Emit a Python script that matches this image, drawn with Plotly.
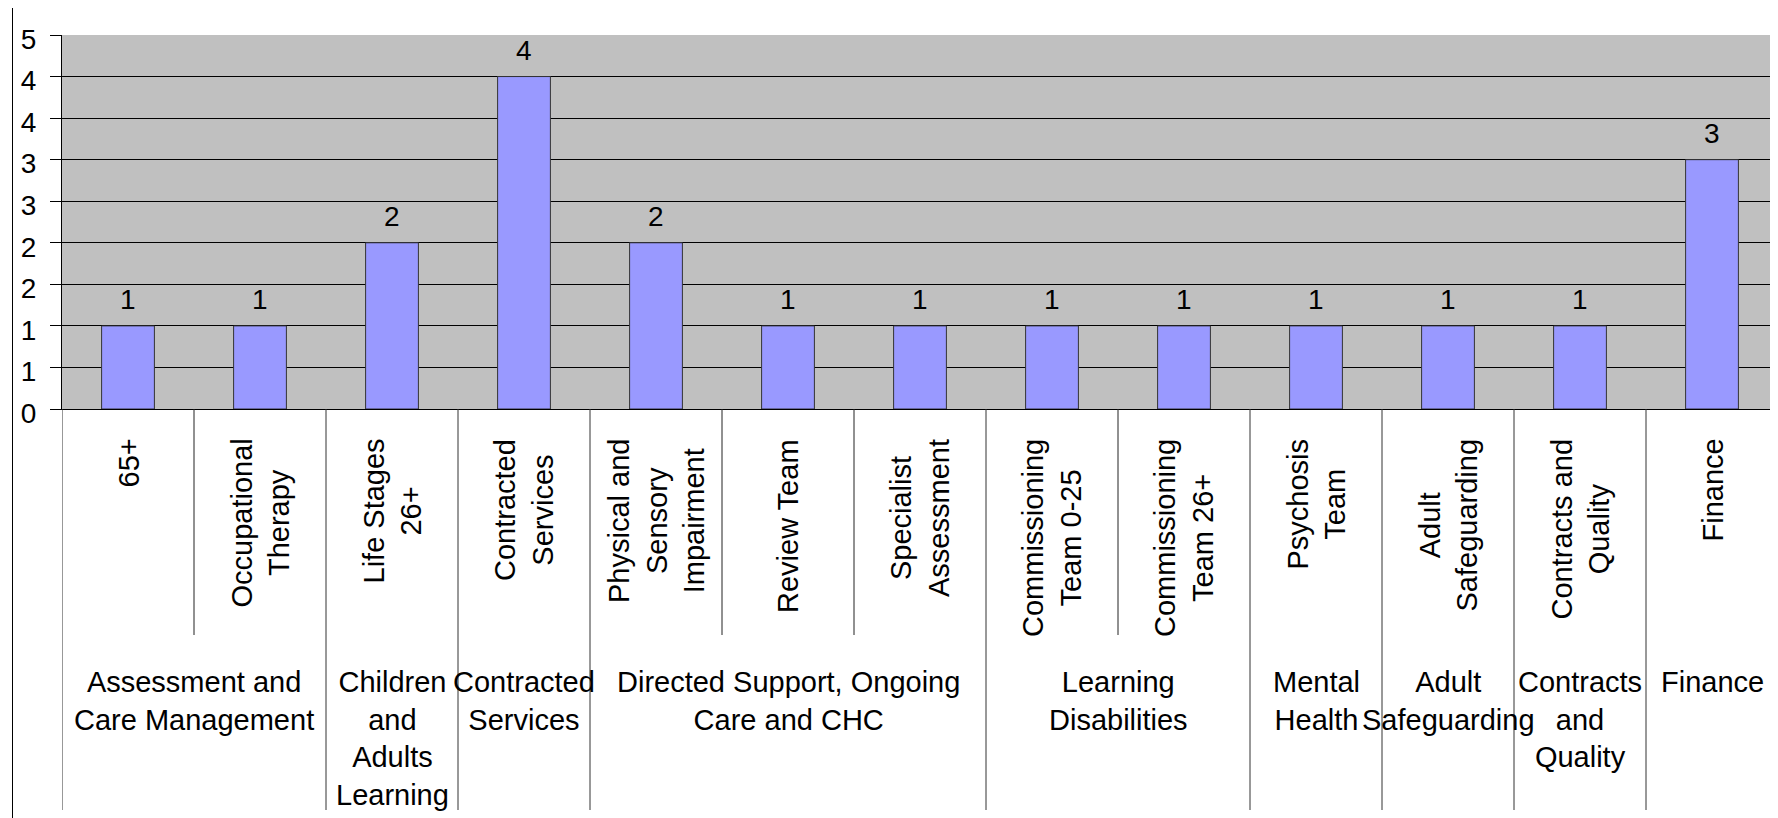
import plotly.graph_objects as go

# data
teams = ["65+", "Occupational Therapy", "Life Stages 26+", "Contracted Services",
         "Physical and Sensory Impairment", "Review Team", "Specialist Assessment",
         "Commissioning Team 0-25", "Commissioning Team 26+", "Psychosis Team",
         "Adult Safeguarding", "Contracts and Quality", "Finance"]
team_labels = ["65+", "Occupational<br>Therapy", "Life Stages<br>26+", "Contracted<br>Services",
               "Physical and<br>Sensory<br>Impairment", "Review Team", "Specialist<br>Assessment",
               "Commissioning<br>Team 0-25", "Commissioning<br>Team 26+", "Psychosis<br>Team",
               "Adult<br>Safeguarding", "Contracts and<br>Quality", "Finance"]
counts = [1, 1, 2, 4, 2, 1, 1, 1, 1, 1, 1, 1, 3]

group_labels = ["Assessment and<br>Care Management", "Children<br>and<br>Adults<br>Learning",
                "Contracted<br>Services", "Directed Support, Ongoing<br>Care and CHC",
                "Learning<br>Disabilities", "Mental<br>Health", "Adult<br>Safeguarding",
                "Contracts<br>and<br>Quality", "Finance"]
group_sizes = [2, 1, 1, 3, 2, 1, 1, 1, 1]

y_tick_vals = [0, 0.5, 1, 1.5, 2, 2.5, 3, 3.5, 4, 4.5]
y_tick_text = ["0", "1", "1", "2", "2", "3", "3", "4", "4", "5"]

# layout, in page pixels (the page body adds an 8px margin)
OFF = 8
W, H = 1778 - OFF, 818 - OFF
PLOT_L, PLOT_T, PLOT_W, PLOT_H = 62, 35, 1716, 374
FONT = "Liberation Sans, Arial, sans-serif"


def py(p):
    return (PLOT_T + PLOT_H - p) / PLOT_H


def px(p):
    return (p - PLOT_L) / PLOT_W


fig = go.Figure()
fig.add_trace(go.Bar(
    x=teams, y=counts, width=0.4,
    marker=dict(color="#9999FF", line=dict(color="#333333", width=1)),
    hoverinfo="x+y",
))

# value labels above bars
for t, v in zip(teams, counts):
    fig.add_annotation(x=t, y=v, text=str(v), showarrow=False, yanchor="bottom",
                       yshift=9, font=dict(size=28, color="black", family=FONT))

# rotated team labels
for t, lab in zip(teams, team_labels):
    fig.add_annotation(x=t, xref="x", y=py(437), yref="paper", text=lab, textangle=-90,
                       showarrow=False, xanchor="center", yanchor="top", align="center",
                       font=dict(size=29, color="black", family=FONT))

# group labels and dividers
shapes = []
start = 0
bounds = [-0.5]
for lab, n in zip(group_labels, group_sizes):
    end = start + n - 1
    fig.add_annotation(x=(start + end) / 2, xref="x", y=py(664), yref="paper", text=lab,
                       showarrow=False, xanchor="center", yanchor="top", align="center",
                       font=dict(size=29, color="black", family=FONT))
    for k in range(start, end):
        shapes.append(dict(type="line", xref="x", yref="paper", x0=k + 0.5, x1=k + 0.5,
                           y0=0, y1=py(635), line=dict(color="#222222", width=1)))
    bounds.append(end + 0.5)
    start = end + 1
for b in bounds:
    shapes.append(dict(type="line", xref="x", yref="paper", x0=b, x1=b,
                       y0=0, y1=py(810), line=dict(color="#333333", width=1)))

# outer chart border (left and top edges visible)
shapes.append(dict(type="line", xref="paper", yref="paper", x0=px(12.5), x1=px(12.5),
                   y0=py(5.5), y1=py(830), line=dict(color="black", width=1)))
shapes.append(dict(type="line", xref="paper", yref="paper", x0=px(12.5), x1=px(1790),
                   y0=py(5.5), y1=py(5.5), line=dict(color="black", width=1)))

fig.update_layout(
    width=W, height=H,
    margin=dict(l=PLOT_L - OFF, r=W - (PLOT_L - OFF) - PLOT_W, t=PLOT_T - OFF,
                b=H - (PLOT_T - OFF) - PLOT_H, pad=0),
    paper_bgcolor="white", plot_bgcolor="#C0C0C0",
    showlegend=False, bargap=0.6,
    font=dict(family=FONT, color="black"),
    shapes=shapes,
)
fig.update_xaxes(type="category", range=[-0.5, len(teams) - 0.5], showticklabels=False,
                 ticks="", showgrid=False, showline=True, linecolor="black", linewidth=1,
                 fixedrange=True)
fig.update_yaxes(range=[0, 4.5], tickvals=y_tick_vals, ticktext=y_tick_text,
                 ticks="outside", ticklen=11, tickcolor="black", ticklabelstandoff=8,
                 ticklabelshift=4, tickfont=dict(size=28, color="black", family=FONT),
                 showgrid=True, gridcolor="black", gridwidth=1, zeroline=False,
                 showline=True, linecolor="black", linewidth=1, fixedrange=True)

fig.write_html("out.html")
